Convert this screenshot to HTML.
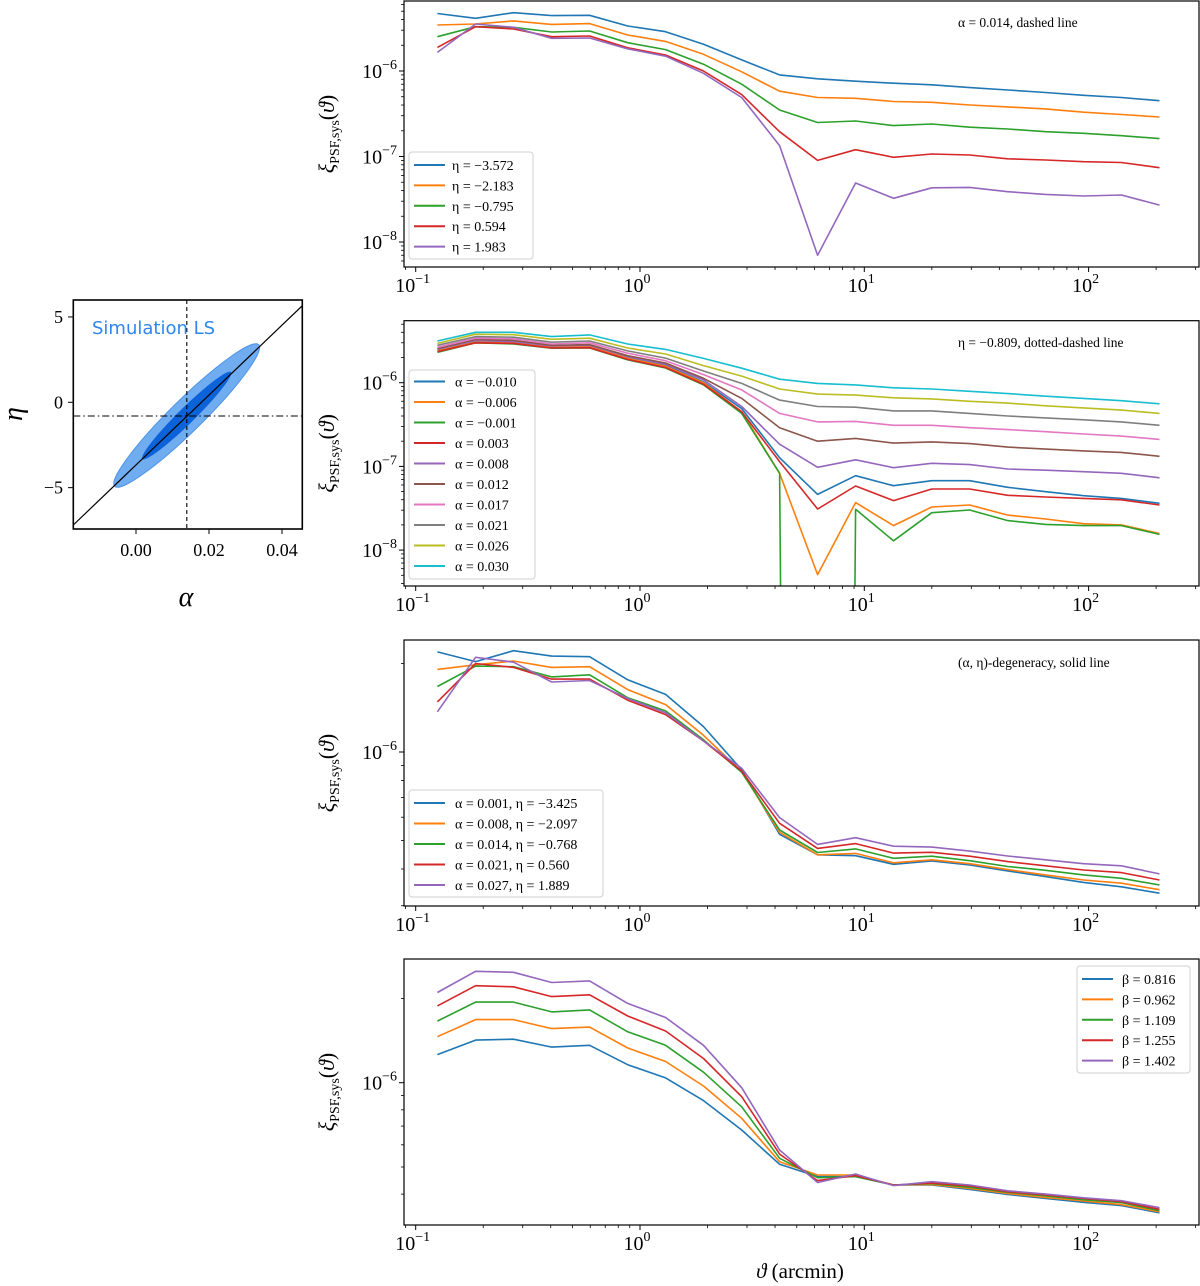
<!DOCTYPE html>
<html><head><meta charset="utf-8"><style>
html,body{margin:0;padding:0;background:#fff;width:1200px;height:1286px;overflow:hidden}
svg{display:block;font-family:"Liberation Serif",serif}
</style></head><body>
<svg id="fig" width="1200" height="1286" viewBox="0 0 1200 1286" xmlns="http://www.w3.org/2000/svg">
<defs>
<clipPath id="c1"><rect x="404" y="1" width="795" height="266"/></clipPath>
<clipPath id="c2"><rect x="404" y="321" width="795" height="265"/></clipPath>
<clipPath id="c3"><rect x="404" y="640" width="795" height="266"/></clipPath>
<clipPath id="c4"><rect x="404" y="959" width="795" height="266"/></clipPath>
<clipPath id="c0"><rect x="73.3" y="300" width="229" height="229"/></clipPath>
</defs>
<g id="left-panel">
  <g clip-path="url(#c0)">
    <ellipse cx="186.7" cy="415.5" rx="101" ry="16" transform="rotate(-44.5 186.7 415.5)" fill="#70acf0" stroke="#4f95e6" stroke-width="1"/>
    <ellipse cx="186.7" cy="415.5" rx="62" ry="8" transform="rotate(-44.5 186.7 415.5)" fill="#0b62d9"/>
    <line x1="73.3" y1="525" x2="302.3" y2="305.7" stroke="#000" stroke-width="1.2"/>
    <line x1="186.8" y1="300" x2="186.8" y2="529" stroke="#000" stroke-width="1.1" stroke-dasharray="4,3"/>
    <line x1="73.3" y1="416" x2="302.3" y2="416" stroke="#000" stroke-width="1.1" stroke-dasharray="7,3,1.5,3"/>
  </g>
  <text x="92" y="334" font-family="DejaVu Sans, sans-serif" font-size="18" fill="#2f86ee">Simulation LS</text>
  <rect x="73.3" y="300" width="229" height="229" fill="none" stroke="#000" stroke-width="1.6"/>
  <g id="left-ticks"></g>
  <text x="186" y="606" font-size="28" font-style="italic" text-anchor="middle">α</text>
  <text transform="translate(22,414) rotate(-90)" font-size="28" font-style="italic" text-anchor="middle">η</text>
</g>
<g id="panels"></g>
</svg>
<script>
// shared angular bins (arcmin)
const theta = [0.125,0.185,0.273,0.404,0.596,0.881,1.30,1.92,2.84,4.19,6.19,9.15,13.5,20.0,29.5,43.6,64.3,95.0,140,207];
const colors = ['#1f77b4','#ff7f0e','#2ca02c','#d62728','#9467bd','#8c564b','#e377c2','#7f7f7f','#bcbd22','#17becf'];
const xTickLabels = ['-1','0','1','2'];

// Panel 1: varying eta (units 1e-6)
const p1Labels = ['η = −3.572','η = −2.183','η = −0.795','η = 0.594','η = 1.983'];
const p1Blue   = [4.7,4.13,4.81,4.44,4.48,3.36,2.88,2.05,1.35,0.90,0.81,0.76,0.72,0.69,0.64,0.60,0.56,0.52,0.49,0.45];
const p1Orange = [3.45,3.55,3.85,3.51,3.58,2.64,2.22,1.57,0.98,0.58,0.49,0.48,0.44,0.43,0.40,0.38,0.36,0.33,0.31,0.29];
const p1Green  = [2.52,3.30,3.24,2.86,2.94,2.14,1.78,1.20,0.70,0.35,0.25,0.26,0.23,0.24,0.22,0.21,0.195,0.187,0.175,0.162];
const p1Red    = [1.89,3.30,3.10,2.52,2.57,1.87,1.54,1.0,0.53,0.195,0.090,0.120,0.098,0.107,0.104,0.094,0.091,0.087,0.085,0.074];
const p1Purple = [1.65,3.55,3.24,2.41,2.43,1.82,1.49,0.94,0.49,0.134,0.0070,0.049,0.0324,0.043,0.0435,0.0388,0.036,0.0345,0.0355,0.027];

// Panel 2: varying alpha (units 1e-6); non-positive value = negative correlation
const p2Labels = ['α = −0.010','α = −0.006','α = −0.001','α = 0.003','α = 0.008','α = 0.012','α = 0.017','α = 0.021','α = 0.026','α = 0.030'];
const p2A0 = [2.4,3.1,3.0,2.65,2.7,1.97,1.6,1.02,0.49,0.127,0.0463,0.0775,0.0588,0.0675,0.0675,0.0562,0.0499,0.0447,0.0415,0.0362];
const p2A1 = [2.4,3.05,3.0,2.65,2.7,1.95,1.57,1.0,0.45,0.0826,0.0051,0.0369,0.0196,0.0327,0.0346,0.0262,0.0235,0.0207,0.0200,0.0158];
const p2A2 = [2.3,3.0,2.9,2.58,2.6,1.87,1.5,0.94,0.43,0.0826,-0.01,0.0307,0.0129,0.028,0.0301,0.0225,0.0203,0.0196,0.0196,0.0154];
const p2A3 = [2.35,3.0,2.95,2.6,2.62,1.9,1.52,0.96,0.45,0.114,0.031,0.0583,0.039,0.0537,0.0537,0.0451,0.0431,0.0415,0.0399,0.0346];
const p2A4 = [2.5,3.2,3.1,2.75,2.8,2.05,1.66,1.08,0.52,0.184,0.0975,0.120,0.0966,0.109,0.105,0.093,0.090,0.0865,0.0826,0.073];
const p2A5 = [2.55,3.3,3.2,2.8,2.85,2.1,1.72,1.13,0.65,0.29,0.20,0.216,0.19,0.196,0.187,0.17,0.161,0.153,0.147,0.132];
const p2A6 = [2.65,3.4,3.35,2.9,3.0,2.25,1.83,1.25,0.82,0.43,0.34,0.345,0.31,0.31,0.29,0.275,0.26,0.244,0.23,0.21];
const p2A7 = [2.8,3.55,3.5,3.05,3.15,2.4,1.97,1.38,0.98,0.62,0.52,0.51,0.46,0.46,0.43,0.40,0.38,0.36,0.34,0.31];
const p2A8 = [2.95,3.8,3.75,3.3,3.4,2.6,2.2,1.6,1.2,0.84,0.73,0.71,0.66,0.64,0.60,0.57,0.53,0.50,0.47,0.43];
const p2A9 = [3.15,4.0,4.0,3.55,3.72,2.9,2.5,1.95,1.49,1.10,0.98,0.94,0.87,0.84,0.79,0.74,0.69,0.65,0.61,0.56];

// Panel 3: degeneracy line (units 1e-6)
const p3Labels = ['α = 0.001, η = −3.425','α = 0.008, η = −2.097','α = 0.014, η = −0.768','α = 0.021, η = 0.560','α = 0.027, η = 1.889'];
const p3S0 = [2.19,2.03,2.21,2.12,2.11,1.76,1.57,1.22,0.87,0.525,0.447,0.444,0.415,0.426,0.413,0.394,0.377,0.360,0.348,0.331];
const p3S1 = [1.91,1.98,2.04,1.94,1.95,1.63,1.45,1.14,0.857,0.533,0.447,0.452,0.42,0.43,0.417,0.398,0.382,0.367,0.358,0.34];
const p3S2 = [1.67,1.96,1.95,1.80,1.83,1.53,1.38,1.10,0.853,0.543,0.455,0.468,0.435,0.442,0.427,0.408,0.396,0.382,0.372,0.353];
const p3S3 = [1.48,2.0,1.94,1.77,1.77,1.50,1.34,1.09,0.861,0.572,0.47,0.488,0.453,0.456,0.442,0.424,0.41,0.397,0.389,0.367];
const p3S4 = [1.37,2.10,2.02,1.73,1.75,1.52,1.36,1.09,0.88,0.598,0.485,0.511,0.478,0.475,0.46,0.443,0.43,0.417,0.41,0.385];

// Panel 4: varying beta (units 1e-6)
const p4Labels = ['β = 0.816','β = 0.962','β = 1.109','β = 1.255','β = 1.402'];
const p4B0 = [1.26,1.42,1.43,1.34,1.36,1.16,1.04,0.863,0.678,0.511,0.462,0.462,0.431,0.431,0.416,0.399,0.386,0.374,0.364,0.343];
const p4B1 = [1.46,1.68,1.68,1.56,1.58,1.33,1.19,0.973,0.746,0.522,0.468,0.468,0.431,0.433,0.419,0.402,0.389,0.378,0.367,0.346];
const p4B2 = [1.66,1.94,1.94,1.79,1.82,1.52,1.36,1.09,0.82,0.537,0.458,0.462,0.431,0.436,0.423,0.406,0.394,0.382,0.373,0.349];
const p4B3 = [1.88,2.22,2.20,2.03,2.06,1.73,1.53,1.22,0.891,0.556,0.447,0.466,0.431,0.438,0.428,0.408,0.397,0.386,0.376,0.353];
const p4B4 = [2.10,2.50,2.48,2.28,2.31,1.92,1.71,1.36,0.96,0.575,0.44,0.472,0.429,0.443,0.431,0.411,0.40,0.388,0.379,0.358];

// left panel ticks
const alphaTicks = [0.00,0.02,0.04];
const etaTicks = [5,0,-5];

const NS='http://www.w3.org/2000/svg';
const root=document.getElementById('panels');
function mk(tag,attrs,parent){const e=document.createElementNS(NS,tag);for(const k in attrs)e.setAttribute(k,attrs[k]);(parent||root).appendChild(e);return e;}
const X0=415.7, XD=224.3, XL=404, XR=1199;
function xs(t){return X0+(Math.log10(t)+1)*XD;}

const panels=[
 {top:1,bot:267,y6:71,dec:85.5,clip:'c1',series:[p1Blue,p1Orange,p1Green,p1Red,p1Purple],labels:p1Labels,
  leg:{x:409,y:152,w:124,h:107,y0:165,dy:20.4,lx:414,tx:452},ann:{x:958,y:27,t:'α = 0.014, dashed line'},majors:[-6,-7,-8],name:'eta-panel'},
 {top:320.7,bot:586,y6:382.7,dec:83.7,clip:'c2',series:[p2A0,p2A1,p2A2,p2A3,p2A4,p2A5,p2A6,p2A7,p2A8,p2A9],labels:p2Labels,
  leg:{x:409,y:370,w:126,h:209,y0:381.5,dy:20.5,lx:414,tx:455},ann:{x:958,y:347,t:'η = −0.809, dotted-dashed line'},majors:[-6,-7,-8],name:'alpha-panel'},
 {top:640,bot:906,y6:752,dec:294,clip:'c3',series:[p3S0,p3S1,p3S2,p3S3,p3S4],labels:p3Labels,
  leg:{x:409,y:790,w:194,h:107,y0:803,dy:20.5,lx:414,tx:455},ann:{x:958,y:667,t:'(α, η)-degeneracy, solid line'},majors:[-6],name:'degeneracy-panel'},
 {top:959,bot:1225,y6:1082.7,dec:280,clip:'c4',series:[p4B0,p4B1,p4B2,p4B3,p4B4],labels:p4Labels,
  leg:{x:1077,y:966,w:113,h:107,y0:979,dy:20.4,lx:1082,tx:1122},ann:null,majors:[-6],name:'beta-panel'}
];

panels.forEach((p,pi)=>{
  const g=mk('g',{});
  
  
  const ys=v=>p.y6-(Math.log10(v>0?v*1e-6:1e-300)+6)*p.dec;
  const lg=mk('g',{'clip-path':'url(#'+p.clip+')'},g);
  p.series.forEach((s,si)=>{
    const d=s.map((v,i)=>(i?'L':'M')+xs(theta[i]).toFixed(1)+','+Math.max(-5000,Math.min(5000,ys(v))).toFixed(1)).join(' ');
    const path=mk('path',{d:d,fill:'none',stroke:colors[si],'stroke-width':1.6,'stroke-linejoin':'round'},lg);
    
    
  });
  const fr=mk('rect',{x:XL,y:p.top,width:XR-XL,height:p.bot-p.top,fill:'none',stroke:'#000','stroke-width':1.2},g);
  
  
  for(let e=-2;e<=3;e++){for(let m=1;m<10;m++){const x=X0+(e+1+Math.log10(m))*XD;if(x<XL||x>XR)continue;
    mk('line',{x1:x,x2:x,y1:p.bot,y2:p.bot+(m===1?5:3),stroke:'#000','stroke-width':m===1?1:0.8},g);}}
  xTickLabels.forEach((l,i)=>{
    const t=mk('text',{x:X0+i*XD-3,y:p.bot+25,'font-size':20,'text-anchor':'middle'},g);
    
    
    t.textContent='10';
    const s=mk('tspan',{'font-size':14,dy:-9},t);s.textContent=l.replace('-','−');
  });
  for(let e=-10;e<=-4;e++){for(let m=1;m<10;m++){const y=p.y6-(e+6+Math.log10(m))*p.dec;if(y<p.top-0.5||y>p.bot+0.5)continue;
    mk('line',{x1:XL,x2:XL-(m===1?5:3),y1:y,y2:y,stroke:'#000','stroke-width':m===1?1:0.8},g);}}
  p.majors.forEach(e=>{
    const y=p.y6-(e+6)*p.dec;
    const t=mk('text',{x:397,y:y+7,'font-size':20,'text-anchor':'end'},g);
    
    
    t.textContent='10';
    const s=mk('tspan',{'font-size':14,dy:-9},t);s.textContent='−'+(-e);
  });
  const cy=(p.top+p.bot)/2;
  const yt=mk('text',{transform:'translate(334,'+cy+') rotate(-90)','font-size':22,'text-anchor':'middle'},g);
  
  
  const a=mk('tspan',{'font-style':'italic'},yt);a.textContent='ξ';
  const b=mk('tspan',{'font-size':14,dy:5},yt);b.textContent='PSF,sys';
  const c=mk('tspan',{dy:-5},yt);c.textContent='(';
  const d2=mk('tspan',{'font-style':'italic'},yt);d2.textContent='ϑ';
  const e2=mk('tspan',{},yt);e2.textContent=')';
  const L=p.leg;
  const lb=mk('rect',{x:L.x,y:L.y,width:L.w,height:L.h,rx:3,fill:'#fff','fill-opacity':0.85,stroke:'#d0d0d0','stroke-width':1},g);
  
  
  p.labels.forEach((l,i)=>{
    const y=L.y0+i*L.dy;
    const ln=mk('line',{x1:L.lx,x2:L.lx+31,y1:y,y2:y,stroke:colors[i],'stroke-width':2},g);
    
    
    const t=mk('text',{x:L.tx,y:y+5,'font-size':14},g);
    
    
    t.textContent=l;
  });
  if(p.ann){
    const t=mk('text',{x:p.ann.x,y:p.ann.y,'font-size':13.5},g);
    
    
    t.textContent=p.ann.t;
  }
});
const xt=mk('text',{x:800,y:1278,'font-size':21,'text-anchor':'middle'});


const xa=mk('tspan',{'font-style':'italic'},xt);xa.textContent='ϑ';
const xb=mk('tspan',{},xt);xb.textContent=' (arcmin)';

const lt=document.getElementById('left-ticks');
const ax=a=>136+a*3650, ey=e=>402.3-e*17.07;
alphaTicks.forEach(a=>{const x=ax(a);
  mk('line',{x1:x,x2:x,y1:529,y2:534,stroke:'#000'},lt);
  const t=mk('text',{x:x,y:556,'font-size':18,'text-anchor':'middle'},lt);
  
  
  t.textContent=a.toFixed(2);});
etaTicks.forEach(e=>{const y=ey(e);
  mk('line',{x1:73.3,x2:68,y1:y,y2:y,stroke:'#000'},lt);
  const t=mk('text',{x:63,y:y+6,'font-size':18,'text-anchor':'end'},lt);
  
  
  t.textContent=(e<0?'−':'')+Math.abs(e);});
</script>
</body></html>
